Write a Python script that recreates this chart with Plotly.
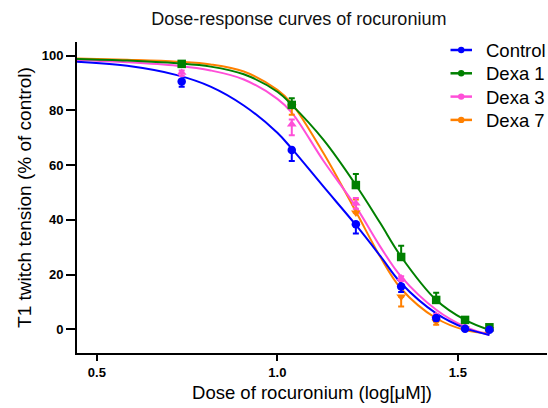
import plotly.graph_objects as go

# ---- data ----
dose_log = [0.735, 1.04, 1.2175, 1.343, 1.44, 1.52, 1.5875]

control = [90.6, 65.5, 38.4, 15.6, 4.1, 0.2, -0.2]
control_up = [0, 0, 0, 0, 0, 0, 0]
control_dn = [2.0, 4.0, 3.4, 2.0, 1.0, 0.3, 0.3]

dexa1 = [97.0, 82.0, 52.7, 26.4, 10.7, 3.4, 0.7]
dexa1_up = [1.0, 2.4, 4.0, 4.1, 2.6, 0.6, 0.5]
dexa1_dn = [0, 0, 0, 0, 0, 0, 0]

dexa3 = [93.8, 74.9, 46.0, 18.6, 5.0, 0.8, 0.0]
dexa3_up = [0.8, 1.8, 2.0, 0.8, 0.6, 0.3, 0.2]
dexa3_dn = [1.2, 4.0, 2.0, 1.0, 0.6, 0.3, 0.2]

dexa7 = [97.3, 81.4, 42.6, 11.9, 2.8, 0.3, 0.0]
dexa7_up = [0, 0, 4.8, 0, 0, 0, 0]
dexa7_dn = [0.6, 3.0, 0, 3.6, 1.2, 0.2, 0.2]

# fitted curves
curve_x = [0.445, 0.584, 0.722, 0.815, 0.907, 1.0, 1.04, 1.128, 1.2175, 1.285, 1.343, 1.44, 1.52, 1.5875]
curve_control = [97.8, 96.3, 92.9, 88.7, 81.8, 71.8, 66.0, 52.1, 38.1, 26.8, 16.8, 5.8, 0.4, -2.1]
curve_dexa1 = [98.8, 98.2, 97.2, 96.0, 93.2, 86.8, 82.0, 69.2, 52.7, 38.8, 26.5, 10.7, 3.4, -0.3]
curve_dexa3 = [98.4, 97.6, 96.3, 94.6, 91.3, 84.2, 79.2, 61.5, 44.8, 30.2, 19.2, 7.1, 0.9, -2.1]
curve_dexa7 = [99.0, 98.5, 97.8, 96.8, 94.2, 87.5, 82.5, 64.3, 43.0, 26.5, 14.8, 4.0, -0.3, -1.5]

names = ["Control", "Dexa 1", "Dexa 3", "Dexa 7"]
colors = ["#0000ff", "#008000", "#ff4fd8", "#ff8000"]
symbols = ["circle", "square", "triangle-up", "triangle-down"]

x_ticks = [0.5, 1.0, 1.5]
x_tick_labels = ["0.5", "1.0", "1.5"]
y_ticks = [0, 20, 40, 60, 80, 100]

title_text = "Dose-response curves of rocuronium"
x_title = "Dose of rocuronium (log[μM])"
y_title = "T1 twitch tension (% of control)"

series = [
    (control, control_up, control_dn, curve_control),
    (dexa1, dexa1_up, dexa1_dn, curve_dexa1),
    (dexa3, dexa3_up, dexa3_dn, curve_dexa3),
    (dexa7, dexa7_up, dexa7_dn, curve_dexa7),
]

FONT = "Arial, 'Liberation Sans', Helvetica, sans-serif"
W, H = 548, 408
ML, MR, MT, MB = 77, 1, 42, 55
PW, PH = W - ML - MR, H - MT - MB

fig = go.Figure()

draw_order = [3, 2, 1, 0]
for i in draw_order:
    vals, up, dn, cy = series[i]
    fig.add_trace(go.Scatter(
        x=curve_x, y=cy, mode="lines",
        line=dict(color=colors[i], width=2, shape="spline", smoothing=1.0),
        showlegend=False, hoverinfo="skip"))
for i in draw_order:
    vals, up, dn, cy = series[i]
    fig.add_trace(go.Scatter(
        x=dose_log, y=vals, mode="markers", name=names[i],
        marker=dict(color=colors[i], symbol=symbols[i], size=8.5,
                    line=dict(width=0)),
        error_y=dict(type="data", symmetric=False, array=up, arrayminus=dn,
                     color=colors[i], thickness=2, width=3),
        showlegend=False))

# legend (drawn in paper coordinates so the row spacing matches)
def px_x(px):
    return (px - ML) / PW

def px_y(py):
    return (H - MB - py) / PH

shapes, annotations = [], []
for i, nm in enumerate(names):
    cy_px = 50 + 23.3 * i
    shapes.append(dict(type="line", xref="paper", yref="paper",
                       x0=px_x(450.5), x1=px_x(472), y0=px_y(cy_px), y1=px_y(cy_px),
                       line=dict(color=colors[i], width=2.5)))
    shapes.append(dict(type="circle", xref="paper", yref="paper",
                       x0=px_x(461.2 - 3.2), x1=px_x(461.2 + 3.2),
                       y0=px_y(cy_px + 3.2), y1=px_y(cy_px - 3.2),
                       fillcolor=colors[i], line=dict(width=0)))
    annotations.append(dict(text=nm, xref="paper", yref="paper",
                            x=px_x(483.5), y=px_y(cy_px + 0.5),
                            xanchor="left", yanchor="middle", showarrow=False,
                            font=dict(size=18.5, color="black")))

fig.update_layout(
    width=W, height=H,
    margin=dict(l=ML, r=MR, t=MT, b=MB),
    paper_bgcolor="white", plot_bgcolor="white",
    font=dict(family=FONT, color="black"),
    showlegend=False,
    shapes=shapes, annotations=annotations,
    title=dict(text=title_text, x=0.472, xref="paper", xanchor="center",
               y=0.955, yref="container", yanchor="middle",
               font=dict(size=18, color="#111111")),
    xaxis=dict(range=[0.445, 1.747], tickvals=x_ticks, ticktext=x_tick_labels,
               showline=True, linewidth=2, linecolor="black", mirror=False,
               ticks="outside", ticklen=6, tickwidth=2, tickcolor="black",
               showgrid=False, zeroline=False,
               tickfont=dict(size=13, weight="bold", color="black"),
               title=dict(text=x_title, font=dict(size=18.5), standoff=7)),
    yaxis=dict(range=[-8.7, 105], tickvals=y_ticks,
               showline=True, linewidth=2, linecolor="black",
               ticks="outside", ticklen=9, tickwidth=2, tickcolor="black",
               showgrid=False, zeroline=False,
               tickfont=dict(size=13, weight="bold", color="black"),
               title=dict(text=y_title, font=dict(size=19), standoff=5)),
)

fig.write_html("out.html", config={"displayModeBar": False},
               post_script="document.body.style.margin='0';document.body.style.overflow='hidden';")
